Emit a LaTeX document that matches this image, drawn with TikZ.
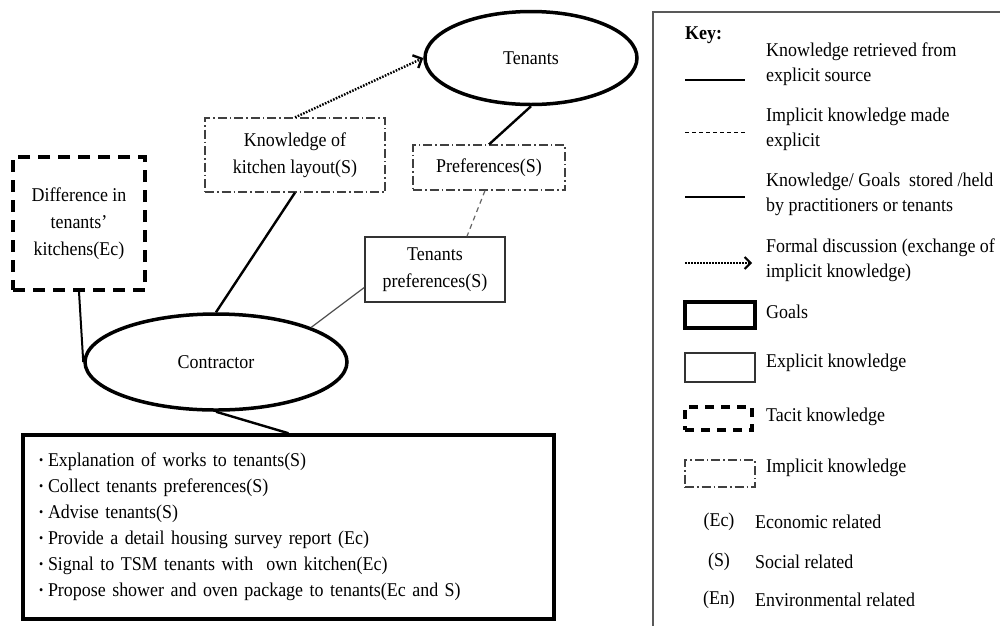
\documentclass[tikz,border=0pt]{standalone}
\usepackage{fontspec}
\setmainfont{Liberation Serif}[FakeStretch=0.92]
\usetikzlibrary{arrows.meta,calc,shapes.geometric}
\newcommand{\bul}{\makebox[9pt][l]{\raisebox{2.5pt}{\fontsize{13}{13}\selectfont\textbullet}}}
\begin{document}
\begin{tikzpicture}[x=1pt,y=-1pt,
  base/.style={font=\fontsize{19.5}{27}\selectfont, align=center, inner sep=0pt},
  goal/.style={base, ellipse, draw, line width=3.5pt},
  implicitbox/.style={base, draw=black!75, line width=1.2pt, dash pattern=on 9pt off 3pt on 1.5pt off 3pt},
  explicitbox/.style={base, draw=black!80, line width=1.5pt},
  tacitbox/.style={base, draw, line width=3.5pt, dash pattern=on 12pt off 8pt},
  goalbox/.style={base, draw, line width=3.5pt},
  heldline/.style={line width=2.4pt},
  srcline/.style={line width=1.2pt, draw=black!70},
  madeline/.style={line width=1.2pt, draw=black!60, dash pattern=on 5pt off 4pt},
  discuss/.style={line width=2.4pt, dash pattern=on 1.6pt off 1.4pt, -{Straight Barb[length=7pt,width=14pt,line width=2.4pt]}},
  keytext/.style={font=\fontsize{19.5}{25}\selectfont, align=left, anchor=west, inner sep=0pt},
]
\useasboundingbox (0,0) rectangle (1000,625);

% main diagram
\node[goal, minimum width=212pt, minimum height=93pt] (tenants) at (531,58) {Tenants};
\node[implicitbox, minimum width=180pt, minimum height=74pt] (know) at (295,155) {Knowledge of\\kitchen layout(S)};
\node[implicitbox, minimum width=152pt, minimum height=45pt] (pref) at (489,167.5) {Preferences(S)};
\node[explicitbox, minimum width=140pt, minimum height=65pt] (tp) at (435,269.5) {Tenants\\preferences(S)};
\node[tacitbox, minimum width=132pt, minimum height=133pt] (diff) at (79,223.5) {Difference in\\tenants'\\kitchens(Ec)};
\node[goal, minimum width=262pt, minimum height=96pt] (contr) at (216,362) {Contractor};
\node[goalbox, minimum width=531pt, minimum height=184pt, text width=499pt, align=left,
      font=\fontsize{19.5}{26}\selectfont] (acts) at (288.5,527)
 {\bul Explanation of works to tenants(S)\\
  \bul Collect tenants preferences(S)\\
  \bul Advise tenants(S)\\
  \bul Provide a detail housing survey report (Ec)\\
  \bul Signal to TSM tenants with\ \ own kitchen(Ec)\\
  \bul Propose shower and oven package to tenants(Ec and S)};

\draw[discuss] (know.north) -- (tenants.west);
\draw[heldline] (tenants.south) -- (pref.north);
\draw[madeline] ($(pref.south)+(-4,0)$) -- ($(tp.north)+(32,0)$);
\draw[srcline] ($(tp.west)+(0,18)$) -- (contr.20);
\draw[heldline] (know.south) -- (contr.north);
\draw[line width=2pt] (diff.south) -- (contr.west);
\draw[heldline] (contr.south) -- (acts.north);

% key
\draw[line width=1.3pt, draw=black!65] (653,640) |- (1010,12);
\node[font=\bfseries\fontsize{19.5}{25}\selectfont, anchor=west, inner sep=0pt] (keyt) at (685,35) {Key:};

\node[keytext] (k1) at (766,64) {Knowledge retrieved from\\explicit source};
\coordinate (k1a) at (685,80); \coordinate (k1b) at (745,80);
\draw[line width=1.2pt] (k1a) -- (k1b);

\node[keytext] (k2) at (766,129) {Implicit knowledge made\\explicit};
\coordinate (k2a) at (685,132); \coordinate (k2b) at (745,132);
\draw[line width=1pt, dash pattern=on 4pt off 3pt] (k2a) -- (k2b);

\node[keytext] (k3) at (766,194) {Knowledge/ Goals\ \ stored /held\\by practitioners or tenants};
\coordinate (k3a) at (685,197); \coordinate (k3b) at (745,197);
\draw[heldline] (k3a) -- (k3b);

\node[keytext] (k4) at (766,260) {Formal discussion (exchange of\\implicit knowledge)};
\coordinate (k4a) at (685,263); \coordinate (k4b) at (752,263);
\draw[discuss, -{Straight Barb[length=6pt,width=12pt,line width=2pt]}] (k4a) -- (k4b);

\node[goalbox, minimum width=70pt, minimum height=26pt] (lg) at (720,315) {};
\node[keytext] (k5) at (766,312) {Goals};

\node[explicitbox, minimum width=70pt, minimum height=29pt] (le) at (720,367.5) {};
\node[keytext] (k6) at (766,363) {Explicit knowledge};

\node[tacitbox, minimum width=67pt, minimum height=23pt, dash pattern=on 9pt off 7pt] (lt) at (718.5,418.5) {};
\node[keytext] (k7) at (766,417) {Tacit knowledge};

\node[implicitbox, minimum width=70pt, minimum height=27pt] (li) at (720,473.5) {};
\node[keytext] (k8) at (766,468) {Implicit knowledge};

\node[base] (cEc) at (719,522) {(Ec)};
\node[keytext] (k9) at (755,522) {Economic related};
\node[base] (cS) at (719,562) {(S)};
\node[keytext] (k10) at (755,562) {Social related};
\node[base] (cEn) at (719,600) {(En)};
\node[keytext] (k11) at (755,600) {Environmental related};
\end{tikzpicture}
\end{document}
